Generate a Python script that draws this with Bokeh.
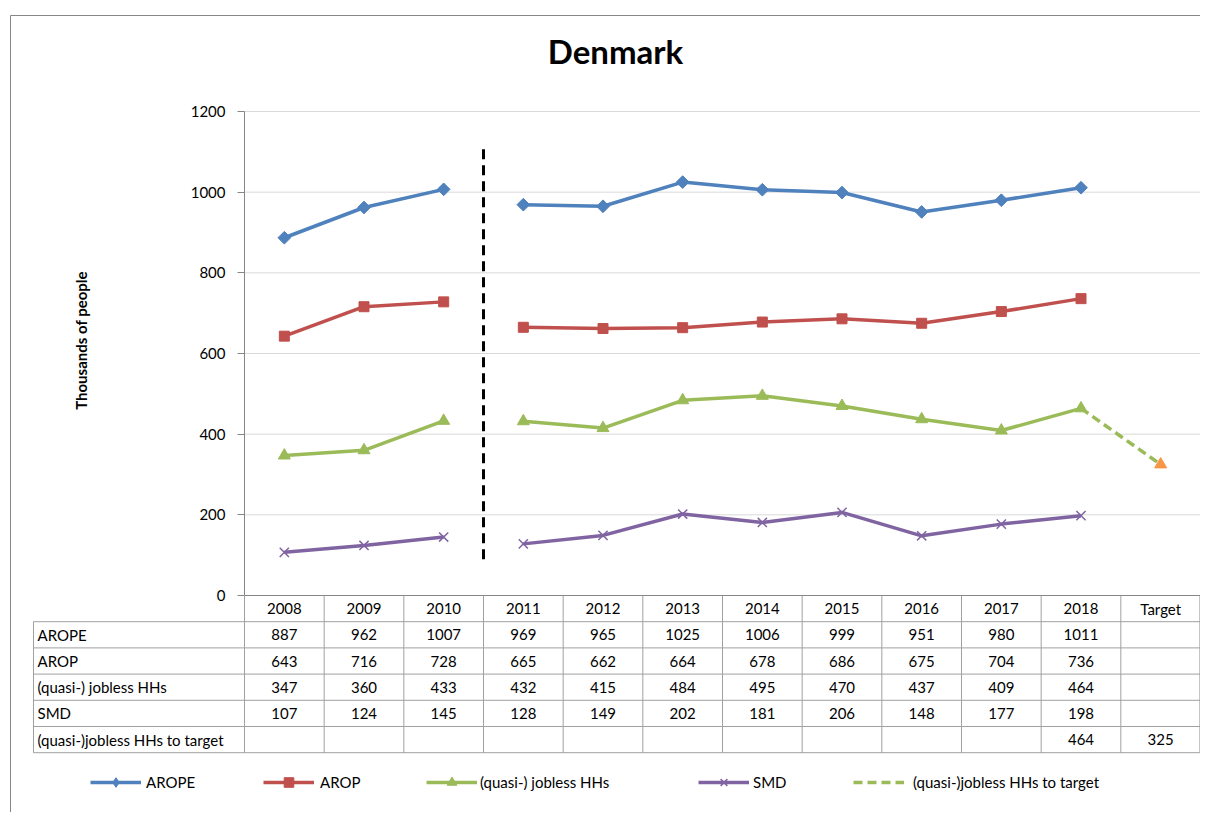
import numpy as np
from bokeh.plotting import figure
from bokeh.models import Range1d, FixedTicker, LinearAxis, Legend, LegendItem
from bokeh.embed import file_html
from bokeh.resources import INLINE
from bokeh.core.properties import value

# ---------------- data ----------------
categories = ["2008", "2009", "2010", "2011", "2012", "2013", "2014",
              "2015", "2016", "2017", "2018", "Target"]
years = categories[:11]
arope = [887, 962, 1007, 969, 965, 1025, 1006, 999, 951, 980, 1011]
arop = [643, 716, 728, 665, 662, 664, 678, 686, 675, 704, 736]
jobless = [347, 360, 433, 432, 415, 484, 495, 470, 437, 409, 464]
smd = [107, 124, 145, 128, 149, 202, 181, 206, 148, 177, 198]
target_cats = ["2018", "Target"]
target_values = [464, 325]
break_after = "2010"          # series break (dashed vertical marker)
break_span = [90, 1108]       # vertical extent of the dashed marker line
yticks = [0, 200, 400, 600, 800, 1000, 1200]
row_labels = ["AROPE", "AROP", "(quasi-) jobless HHs", "SMD",
              "(quasi-)jobless HHs to target"]

# ---------------- styles / geometry ----------------
FONT = "Lato"
BLUE, RED, GREEN, PURPLE, ORANGE = "#4F81BD", "#C0504D", "#9BBB59", "#8064A2", "#F79646"
GRID = "#D9D9D9"
AXIS = "#868686"
TBL = "#A0A0A0"
BORDER = "#878787"
LW = 3.5

W, H = 1200, 812          # canvas placed at page (0, 0)
ORG_X, ORG_Y = 0, 0
PLOT_L, PLOT_R = 244, 1200  # page x of plot area
Y0_PX, Y1200_PX = 595, 111
n_cat = len(categories)
cw = (PLOT_R - PLOT_L) / n_cat
k = (Y0_PX - Y1200_PX) / 1200.0


def X(px):
    return -0.5 + (px - PLOT_L) / cw


def Y(py):
    return (Y0_PX - py) / k


p = figure(width=W, height=H, output_backend="svg", toolbar_location=None,
           x_range=Range1d(X(ORG_X), X(ORG_X + W)),
           y_range=Range1d(Y(ORG_Y + H), Y(ORG_Y)),
           x_axis_location=None, y_axis_location=None,
           min_border_left=0, min_border_right=0, min_border_top=0, min_border_bottom=0)
p.outline_line_color = None
p.grid.visible = False
p.background_fill_color = "white"
p.border_fill_color = "white"

# outer chart border (top / left visible)
p.segment(x0=[X(10), X(10)], y0=[Y(15), Y(15)], x1=[X(10), X(ORG_X + W + 5)],
          y1=[Y(ORG_Y + H + 5), Y(15)], line_color=BORDER, line_width=1)

# title
p.text(x=[X(615)], y=[Y(50)], text=["Denmark"], text_font=value(FONT),
       text_font_size="33px", text_font_style="bold", text_color="black",
       text_align="center", text_baseline="middle")

# y axis
ya = LinearAxis(fixed_location=-0.5, ticker=FixedTicker(ticks=yticks), bounds=(0, 1200))
ya.axis_line_color = AXIS
ya.major_tick_line_color = AXIS
ya.major_tick_out = 7
ya.major_tick_in = 0
ya.minor_tick_line_color = None
ya.major_label_text_font = FONT
ya.major_label_text_font_size = "15px"
ya.major_label_text_color = "black"
ya.major_label_standoff = 12
p.add_layout(ya, "left")

# y axis title
p.text(x=[X(80)], y=[Y(340)], text=["Thousands of people"], angle=np.pi / 2,
       text_font=value(FONT), text_font_size="15px", text_font_style="bold",
       text_color="black", text_align="center", text_baseline="middle")

# horizontal grid lines at the tick values
gt = yticks[1:]
p.segment(x0=[-0.5] * len(gt), y0=gt, x1=[n_cat - 0.5] * len(gt), y1=gt,
          line_color=GRID, line_width=1)

bi = categories.index(break_after)
xi = list(range(len(years)))


def gapped(vals):
    xs = xi[:bi + 1] + [np.nan] + xi[bi + 1:]
    ys = list(vals[:bi + 1]) + [np.nan] + list(vals[bi + 1:])
    return xs, ys


lines = []
for vals, col in [(arope, BLUE), (arop, RED), (jobless, GREEN), (smd, PURPLE)]:
    gx, gy = gapped(vals)
    lines.append(p.line(gx, gy, line_color=col, line_width=LW))

tx = [categories.index(c) for c in target_cats]
l_tgt = p.line(tx, target_values, line_color=GREEN, line_width=LW, line_dash="9 5")
p.scatter(tx[-1:], target_values[-1:], marker="triangle", size=12,
          fill_color=ORANGE, line_color=ORANGE)

p.scatter(xi, arope, marker="square", angle=np.pi / 4, size=9,
          fill_color=BLUE, line_color=BLUE)
m2 = p.scatter(xi, arop, marker="square", size=10, fill_color=RED, line_color=RED)
m3 = p.scatter(xi, jobless, marker="triangle", size=12, fill_color=GREEN, line_color=GREEN)
m4 = p.scatter(xi, smd, marker="x", size=13, line_color=PURPLE, line_width=1.5)
# legend swatch for the diamond marker (kept outside the visible range)
m1 = p.scatter([-100], [-100], marker="diamond", fill_color=BLUE, line_color=BLUE)

p.segment(x0=[bi + 0.5], y0=[break_span[0]], x1=[bi + 0.5], y1=[break_span[1]],
          line_color="black", line_width=3, line_dash="10 6")

# ---------------- data table ----------------
rh = 26.2
n_rows = len(row_labels) + 1
tbl_left = X(33)
row_y = lambda i: Y(Y0_PX + i * rh)

p.segment(x0=[-0.5], y0=[0], x1=[n_cat - 0.5], y1=[0], line_color=AXIS, line_width=1)
hy = [row_y(i) for i in range(1, n_rows + 1)]
p.segment(x0=[tbl_left] * len(hy), y0=hy, x1=[n_cat - 0.5] * len(hy), y1=hy,
          line_color=TBL, line_width=1)
vx = [j - 0.5 for j in range(n_cat)] + [n_cat - 0.5 - 0.6 / cw]
p.segment(x0=vx, y0=[0] * len(vx), x1=vx, y1=[row_y(n_rows)] * len(vx),
          line_color=TBL, line_width=1)
p.segment(x0=[tbl_left], y0=[row_y(1)], x1=[tbl_left], y1=[row_y(n_rows)],
          line_color=TBL, line_width=1)

p.text(x=list(range(n_cat)), y=[row_y(0.5)] * n_cat, text=categories,
       text_font=value(FONT), text_font_size="15px", text_color="black",
       text_align="center", text_baseline="middle")

cx, cy, ct = [], [], []
for r, vals in enumerate([arope, arop, jobless, smd]):
    for j, v in enumerate(vals):
        cx.append(j)
        cy.append(row_y(r + 1.5))
        ct.append(str(v))
for c, v in zip(target_cats, target_values):
    cx.append(categories.index(c))
    cy.append(row_y(len(row_labels) + 0.5))
    ct.append(str(v))
p.text(x=cx, y=cy, text=ct, text_font=value(FONT), text_font_size="15px",
       text_color="black", text_align="center", text_baseline="middle")

p.text(x=[X(37)] * len(row_labels), y=[row_y(i + 1.5) for i in range(len(row_labels))],
       text=row_labels, text_font=value(FONT), text_font_size="15px", text_color="black",
       text_align="left", text_baseline="middle")

# ---------------- legend (one entry per box, placed like the reference) ----------------
entries = [
    (row_labels[0], [lines[0], m1], 90, 5),
    (row_labels[1], [lines[1], m2], 263, 6),
    (row_labels[2], [lines[2], m3], 426, 3),
    (row_labels[3], [lines[3], m4], 698, 4),
    (row_labels[4], [l_tgt], 853, 9),
]
for label, rends, px, standoff in entries:
    lg = Legend(items=[LegendItem(label=label, renderers=rends)],
                location=(px - ORG_X, ORG_Y + H - 782 - 12), orientation="horizontal",
                glyph_width=51, glyph_height=24, label_standoff=standoff,
                padding=0, margin=0, border_line_alpha=0, background_fill_alpha=0,
                label_text_font=FONT, label_text_font_size="15px",
                label_text_color="black")
    p.add_layout(lg)

open("out.html", "w").write(file_html(p, INLINE))
